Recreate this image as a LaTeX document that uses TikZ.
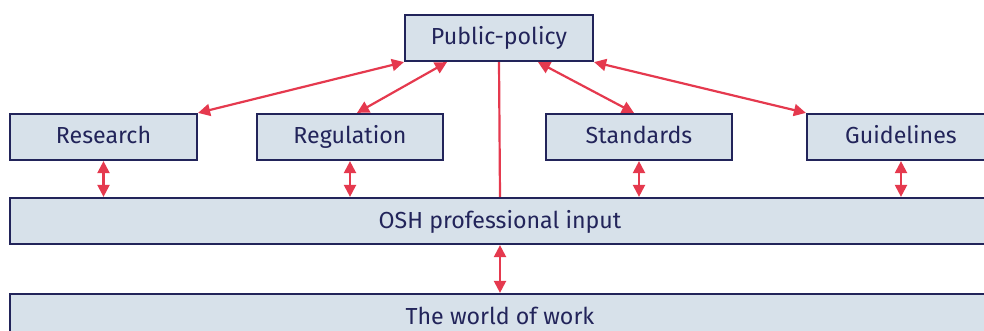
\documentclass[tikz,border=0pt]{standalone}
\usepackage{fontspec}
\setmainfont{Fira Sans}
\usetikzlibrary{arrows.meta}
\definecolor{navy}{HTML}{22245A}
\definecolor{boxfill}{HTML}{D7E1EA}
\definecolor{arrowred}{HTML}{E5394E}
\begin{document}
\begin{tikzpicture}[x=0.5pt, y=-0.5pt,
    box/.style={draw=navy, fill=boxfill, line width=1.1pt, text=navy, minimum height=23pt, inner sep=0pt, text height=8.5pt, text depth=1.5pt, font=\fontsize{11.6}{14}\selectfont},
    link/.style={draw=arrowred, line width=1.1pt, {Triangle[length=6pt,width=6pt]}-{Triangle[length=6pt,width=6pt]}}]
                  \clip (0,0) rectangle (984,331);
                  \node[box, minimum width=94pt] (policy) at (499,38) {Public-policy};
                  \node[box, minimum width=93.5pt] (research) at (103.5,137) {Research};
                  \node[box, minimum width=93pt] (regulation) at (350,137) {Regulation};
                  \node[box, minimum width=93pt] (standards) at (639,137) {Standards};
                  \node[box, minimum width=94pt] (guidelines) at (901,137) {Guidelines};
                  \node[box, minimum width=490pt] (osh) at (500,221) {OSH professional input};
                  \node[box, minimum width=490pt] (world) at (500,317) {The world of work};

                  \draw[link] (research.north east) -- (policy.south west);
                  \draw[link] ([xshift=3.5pt]regulation.north) -- ([xshift=-26pt]policy.south);
                  \draw[link] ([xshift=-2.5pt]standards.north) -- ([xshift=19.5pt]policy.south);
                  \draw[link] (guidelines.north west) -- (policy.south east);
                  \draw[draw=arrowred, line width=1.1pt] (policy.south) -- (osh.north);

                  \draw[link] (research.south) -- (research.south |- osh.north);
                  \draw[link] (regulation.south) -- (regulation.south |- osh.north);
                  \draw[link] (standards.south) -- (standards.south |- osh.north);
                  \draw[link] (guidelines.south) -- (guidelines.south |- osh.north);
                  \draw[link] (osh.south) -- (world.north);

                \end{tikzpicture}
\end{document}
